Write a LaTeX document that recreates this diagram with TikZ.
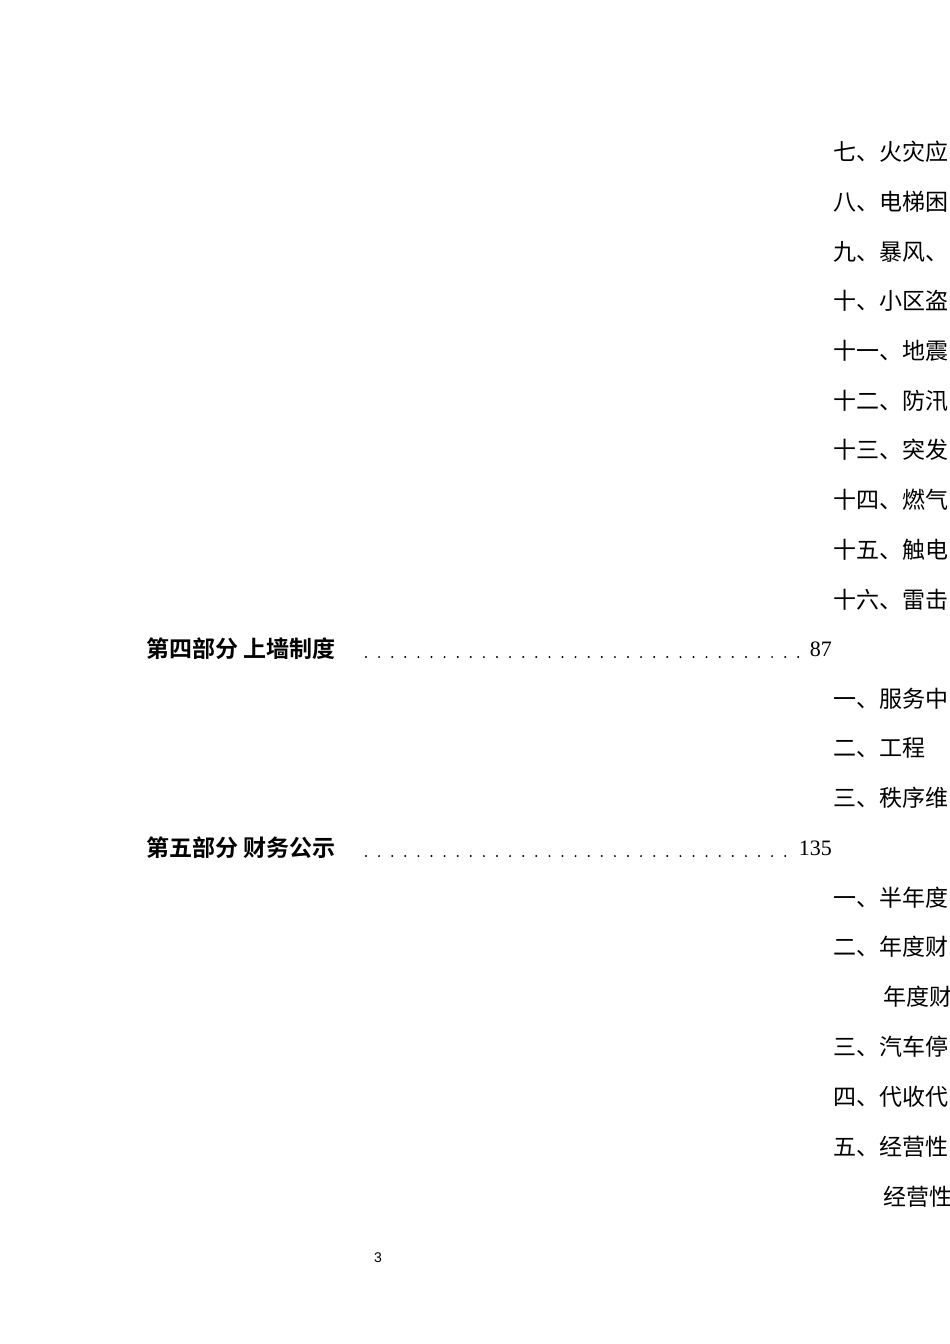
\documentclass[tikz,border=0pt]{standalone}
\usepackage{fontspec}
\newfontfamily\cjk{Noto Sans CJK SC}
\newfontfamily\cjkb{Noto Sans CJK SC Bold}
\newfontfamily\num{Liberation Serif}
\newfontfamily\pg{Liberation Sans}
\begin{document}
\begin{tikzpicture}[x=1pt,y=-1pt,
  item/.style={anchor=west,inner sep=0pt,font=\cjk\fontsize{23}{23}\selectfont},
  head/.style={anchor=west,inner sep=0pt,font=\cjkb\fontsize{23}{23}\selectfont},
  pnum/.style={anchor=east,inner sep=0pt,font=\num\fontsize{22}{22}\selectfont}]
\useasboundingbox[fill=white] (0,0) rectangle (950,1344);
\clip (0,0) rectangle (950,1344);
\foreach \t [count=\i from 0] in {七、火灾应,八、电梯困,九、暴风、,十、小区盗,十一、地震,十二、防汛,十三、突发,十四、燃气,十五、触电,十六、雷击}
  \node[item] (a\i) at (833,{152+49.7*\i}) {\t};
\node[head] (h4) at (146,649) {第四部分\ 上墙制度};
\foreach \x in {0,...,33} \fill (366+13.1*\x,657) circle (1.1);
\node[pnum] (p4) at (832,649) {87};
\node[item] (b1) at (833,699) {一、服务中};
\node[item] (b2) at (833,748) {二、工程};
\node[item] (b3) at (833,798) {三、秩序维};
\node[head] (h5) at (146,848) {第五部分\ 财务公示};
\foreach \x in {0,...,32} \fill (366+13.1*\x,856) circle (1.1);
\node[pnum] (p5) at (832,848) {135};
\node[item] (c1) at (833,898) {一、半年度};
\node[item] (c2) at (833,947) {二、年度财};
\node[item] (c3) at (883,997) {年度财};
\node[item] (c4) at (833,1047) {三、汽车停};
\node[item] (c5) at (833,1097) {四、代收代};
\node[item] (c6) at (833,1147) {五、经营性};
\node[item] (c7) at (883,1197) {经营性};
\node[inner sep=0pt,font=\pg\fontsize{14}{14}\selectfont] (pg) at (378,1258) {3};
\end{tikzpicture}
\end{document}
